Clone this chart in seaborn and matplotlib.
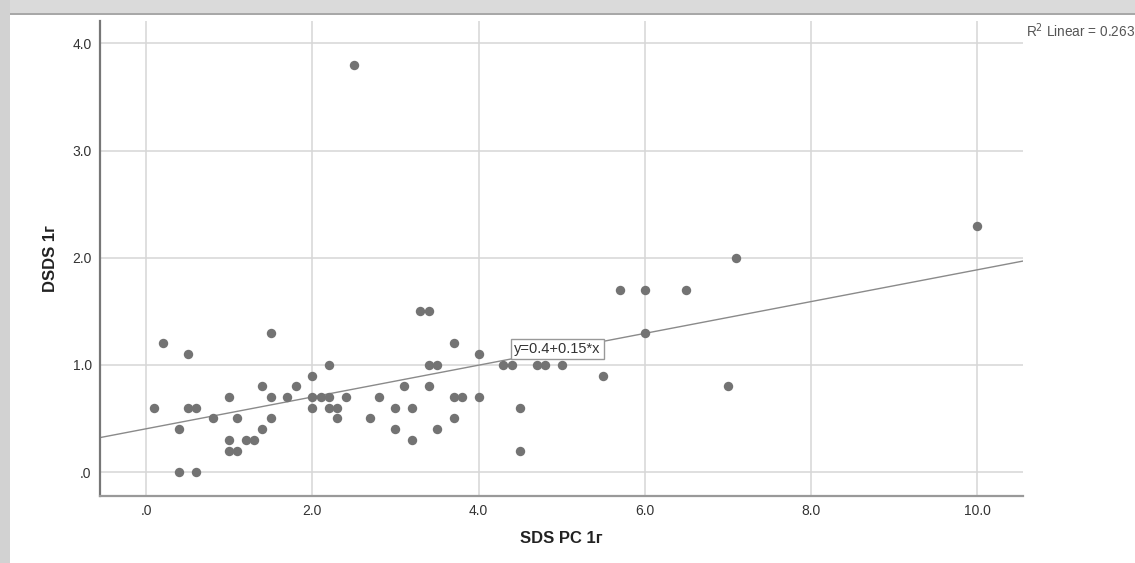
import numpy as np
import pandas as pd
import matplotlib
matplotlib.use("Agg")
import matplotlib.pyplot as plt
import seaborn as sns
from matplotlib.path import Path
from matplotlib.transforms import Affine2D
from matplotlib.patches import Rectangle

# ---- data ----
sds_pc = [0.1, 0.2, 0.4, 0.4, 0.5, 0.5, 0.6, 0.6, 0.8, 1.0,
          1.0, 1.0, 1.1, 1.1, 1.2, 1.3, 1.4, 1.4, 1.5, 1.5,
          1.5, 1.7, 1.8, 2.0, 2.0, 2.0, 2.1, 2.2, 2.2, 2.2,
          2.3, 2.3, 2.4, 2.5, 2.7, 2.8, 3.0, 3.0, 3.1, 3.2,
          3.2, 3.3, 3.4, 3.4, 3.4, 3.5, 3.5, 3.7, 3.7, 3.7,
          3.8, 4.0, 4.0, 4.3, 4.4, 4.5, 4.5, 4.7, 4.8, 5.0,
          5.5, 5.7, 6.0, 6.0, 6.5, 7.0, 7.1, 10.0]
dsds = [0.6, 1.2, 0.4, 0.0, 1.1, 0.6, 0.6, 0.0, 0.5, 0.7,
        0.3, 0.2, 0.5, 0.2, 0.3, 0.3, 0.8, 0.4, 1.3, 0.7,
        0.5, 0.7, 0.8, 0.9, 0.7, 0.6, 0.7, 1.0, 0.7, 0.6,
        0.6, 0.5, 0.7, 3.8, 0.5, 0.7, 0.6, 0.4, 0.8, 0.6,
        0.3, 1.5, 1.5, 1.0, 0.8, 1.0, 0.4, 1.2, 0.7, 0.5,
        0.7, 1.1, 0.7, 1.0, 1.0, 0.6, 0.2, 1.0, 1.0, 1.0,
        0.9, 1.7, 1.7, 1.3, 1.7, 0.8, 2.0, 2.3]

x_ticks = [0, 2, 4, 6, 8, 10]
x_tick_labels = [".0", "2.0", "4.0", "6.0", "8.0", "10.0"]
y_ticks = [0, 1, 2, 3, 4]
y_tick_labels = [".0", "1.0", "2.0", "3.0", "4.0"]

x_label = "SDS PC 1г"
y_label = "DSDS 1г"
equation_text = "y=0.4+0.15*x"
r2_text = "R$^2$ Linear = 0.263"

df = pd.DataFrame({"x": sds_pc, "y": dsds})

# ---- style ----
sns.set_theme(style="white")
plt.rcParams["font.family"] = ["Liberation Sans", "DejaVu Sans"]

fig = plt.figure(figsize=(11.35, 5.63), dpi=100)
fig.patch.set_facecolor("white")

# picture frame (gray border of the exported SPSS chart)
W, H = 1135, 563
fig.patches.append(Rectangle((0, 1 - 14 / H), 1, 14 / H, transform=fig.transFigure,
                             facecolor="#dadada", edgecolor="none", zorder=0))
fig.patches.append(Rectangle((0, 1 - 15 / H), 1, 2 / H, transform=fig.transFigure,
                             facecolor="#a8a8a8", edgecolor="none", zorder=0))
fig.patches.append(Rectangle((0, 0), 10 / W, 1, transform=fig.transFigure,
                             facecolor="#d2d2d2", edgecolor="none", zorder=0))

ax = fig.add_axes([100 / W, 1 - 496 / H, (1023 - 100) / W, (496 - 21) / H])
ax.set_xlim(-0.554, 10.55)
ax.set_ylim(-0.224, 4.21)

ax.set_xticks(x_ticks)
ax.set_xticklabels(x_tick_labels)
ax.set_yticks(y_ticks)
ax.set_yticklabels(y_tick_labels)
ax.grid(True, color="#d6d6d6", linewidth=1.1)
ax.set_axisbelow(True)

for s in ["top", "right"]:
    ax.spines[s].set_visible(False)
ax.spines["left"].set_color("#777777")
ax.spines["bottom"].set_color("#999999")
ax.spines["left"].set_linewidth(1.6)
ax.spines["bottom"].set_linewidth(1.6)
ax.tick_params(axis="both", length=0, pad=6, labelsize=10, labelcolor="#333333")

# elliptical markers like SPSS
ell = Path.unit_circle().transformed(Affine2D().scale(1.25, 1.0))

sns.regplot(data=df, x="x", y="y", ax=ax, ci=None, truncate=False,
            scatter_kws=dict(marker=ell, s=46, color="#737373", linewidths=0, alpha=1, zorder=3),
            line_kws=dict(color="#8a8a8a", linewidth=1.0, zorder=2))

ax.set_xlabel(x_label, fontsize=12, fontweight="bold", color="#222222", labelpad=9)
ax.set_ylabel(y_label, fontsize=12, fontweight="bold", color="#222222", labelpad=10)

ax.text(4.43, 1.15, equation_text, fontsize=10.5, color="#333333", va="center", ha="left",
        zorder=5,
        bbox=dict(boxstyle="square,pad=0.2", facecolor="white", edgecolor="#999999", linewidth=1))

fig.text(1026 / W, 1 - 31 / H, r2_text, fontsize=9.8, color="#555555", va="center", ha="left")

fig.savefig("out.png", dpi=100, facecolor=fig.get_facecolor())
